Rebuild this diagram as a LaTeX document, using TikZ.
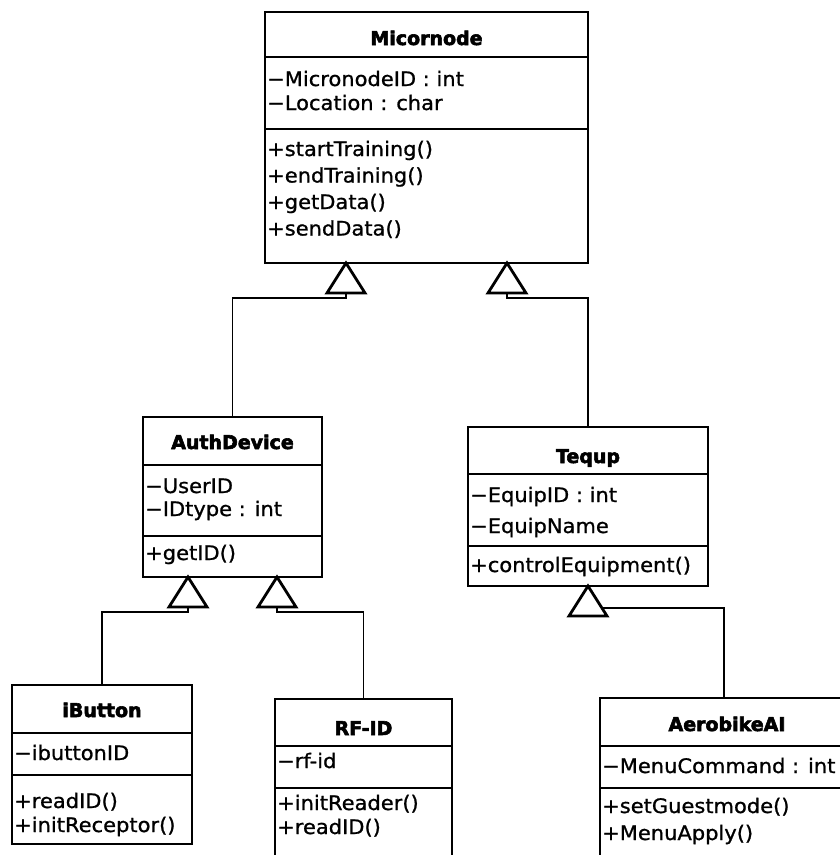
\documentclass[tikz,border=0pt]{standalone}
\usepackage{fontspec}
\setmainfont{DejaVu Sans}[FakeStretch=1.05, FakeBold=1.0]
\newfontfamily\classfont{DejaVu Sans}[FakeStretch=1.0,
  BoldFont={DejaVu Sans Bold}, BoldFeatures={FakeBold=3.0}]
\usetikzlibrary{calc}

\tikzset{
  classbox/.style={draw, line width=2.9pt, rectangle, anchor=north west,
    inner sep=0pt, outer sep=0pt, fill=white},
  divider/.style={line width=2.5pt},
  classname/.style={anchor=base, inner sep=0pt,
    font=\classfont\bfseries\fontsize{19pt}{23pt}\selectfont},
  member/.style={anchor=base west, inner sep=0pt,
    font=\fontsize{20pt}{24pt}\selectfont},
  conn/.style={line width=1.5pt},
  gentri/.style={line width=2.8pt, fill=white, line join=miter},
}

\begin{document}
\begin{tikzpicture}[x=1pt, y=-1pt]
\useasboundingbox (0,0) rectangle (840,855);
\clip (0,0) rectangle (840,855);

% ---------- Micornode ----------
\node[classbox, minimum width=323pt, minimum height=251pt] (mic) at (265,12) {};
\draw[divider] (mic.west |- 0,57) -- (mic.east |- 0,57);
\draw[divider] (mic.west |- 0,129) -- (mic.east |- 0,129);
\node[classname] (micT) at (426.5,45) {Micornode};
\node[member] (micA1) at (267,86) {−MicronodeID : int};
\node[member] (micA2) at (267,110) {−Location : char};
\node[member] (micM1) at (267,156) {+startTraining()};
\node[member] (micM2) at (267,182.5) {+endTraining()};
\node[member] (micM3) at (267,209) {+getData()};
\node[member] (micM4) at (267,235.5) {+sendData()};

% ---------- AuthDevice ----------
\node[classbox, minimum width=179pt, minimum height=160pt] (auth) at (143,417) {};
\draw[divider] (auth.west |- 0,465) -- (auth.east |- 0,465);
\draw[divider] (auth.west |- 0,536) -- (auth.east |- 0,536);
\node[classname] (authT) at (232.5,449) {AuthDevice};
\node[member] (authA1) at (145,493) {−UserID};
\node[member] (authA2) at (145,516) {−IDtype : int};
\node[member] (authM1) at (145,560) {+getID()};

% ---------- Tequp ----------
\node[classbox, minimum width=240pt, minimum height=159pt] (teq) at (468,427) {};
\draw[divider] (teq.west |- 0,474) -- (teq.east |- 0,474);
\draw[divider] (teq.west |- 0,546) -- (teq.east |- 0,546);
\node[classname] (teqT) at (588,463) {Tequp};
\node[member] (teqA1) at (470,502) {−EquipID : int};
\node[member] (teqA2) at (470,533) {−EquipName};
\node[member] (teqM1) at (470,572) {+controlEquipment()};

% ---------- iButton ----------
\node[classbox, minimum width=180pt, minimum height=159pt] (ibtn) at (12,685) {};
\draw[divider] (ibtn.west |- 0,733) -- (ibtn.east |- 0,733);
\draw[divider] (ibtn.west |- 0,775) -- (ibtn.east |- 0,775);
\node[classname] (ibtnT) at (102,717) {iButton};
\node[member] (ibtnA1) at (14,760) {−ibuttonID};
\node[member] (ibtnM1) at (14,808) {+readID()};
\node[member] (ibtnM2) at (14,832) {+initReceptor()};

% ---------- RF-ID ----------
\node[classbox, minimum width=177pt, minimum height=190pt] (rfid) at (275,699) {};
\draw[divider] (rfid.west |- 0,746) -- (rfid.east |- 0,746);
\draw[divider] (rfid.west |- 0,788) -- (rfid.east |- 0,788);
\node[classname] (rfidT) at (363.5,735) {RF-ID};
\node[member] (rfidA1) at (277,768) {−rf-id};
\node[member] (rfidM1) at (277,810) {+initReader()};
\node[member] (rfidM2) at (277,834) {+readID()};

% ---------- AerobikeAI ----------
\node[classbox, minimum width=254pt, minimum height=190pt] (aero) at (600,698) {};
\draw[divider] (aero.west |- 0,746) -- (aero.east |- 0,746);
\draw[divider] (aero.west |- 0,788) -- (aero.east |- 0,788);
\node[classname] (aeroT) at (727,731) {AerobikeAI};
\node[member] (aeroA1) at (602,773) {−MenuCommand : int};
\node[member] (aeroM1) at (602,813) {+setGuestmode()};
\node[member] (aeroM2) at (602,840) {+MenuApply()};

% ---------- generalization tips ----------
\coordinate (micL) at ($(mic.south west)+(81,0)$);
\coordinate (micR) at ($(mic.south west)+(242,0)$);
\coordinate (authL) at ($(auth.south west)+(45,0)$);
\coordinate (authR) at ($(auth.south west)+(134,0)$);
\coordinate (teqB) at (teq.south);

% connectors: child -> parent
\draw[conn] (auth.north) |- ($(micL)+(0,35)$) -- ($(micL)+(0,30)$);
\draw[conn] (teq.north) |- ($(micR)+(0,35)$) -- ($(micR)+(0,30)$);
\draw[conn] (ibtn.north) |- ($(authL)+(0,35)$) -- ($(authL)+(0,30)$);
\draw[conn] (rfid.north) |- ($(authR)+(0,35)$) -- ($(authR)+(0,30)$);
\draw[conn] ($(aero.north west)+(124,0)$) |- ($(teqB)+(14,22)$);

% hollow triangles
\foreach \apex in {micL,micR,authL,authR,teqB}
  \draw[gentri] (\apex) -- ++(-19,30) -- ++(38,0) -- cycle;

\end{tikzpicture}
\end{document}
